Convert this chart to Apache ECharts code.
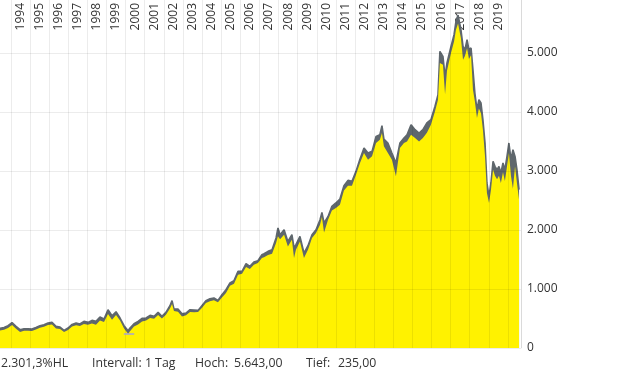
<!DOCTYPE html>
<html>
<head>
<meta charset="utf-8">
<script src="https://cdn.jsdelivr.net/npm/echarts@6/dist/echarts.min.js"></script>
<style>
html,body{margin:0;padding:0;background:#fff;}
#chart{width:620px;height:372px;}
</style>
</head>
<body>
<div id="chart"></div>
<script>
// Year tick labels
const years = ['1994','1995','1996','1997','1998','1999','2000','2001','2002','2003','2004','2005','2006','2007','2008','2009','2010','2011','2012','2013','2014','2015','2016','2017','2018','2019'];

// Dates as decimal years
const dates = [
1993.43,1993.64,1993.85,1994.06,1994.27,1994.48,1994.69,1994.90,1995.10,1995.31,
1995.52,1995.73,1995.94,1996.15,1996.36,1996.57,1996.78,1996.99,1997.20,1997.41,
1997.61,1997.82,1998.03,1998.24,1998.45,1998.66,1998.87,1999.08,1999.29,1999.50,
1999.71,1999.92,2000.13,2000.23,2000.44,2000.65,2000.86,2001.07,2001.28,2001.49,
2001.70,2001.90,2002.11,2002.32,2002.43,2002.53,2002.74,2002.95,2003.16,2003.37,
2003.58,2003.79,2004.00,2004.20,2004.41,2004.62,2004.83,2005.04,2005.25,2005.46,
2005.67,2005.88,2006.09,2006.30,2006.50,2006.71,2006.92,2007.13,2007.24,2007.45,
2007.66,2007.87,2007.97,2008.08,2008.29,2008.49,2008.70,2008.81,2008.91,2009.12,
2009.33,2009.54,2009.75,2009.96,2010.17,2010.27,2010.38,2010.59,2010.79,2011.00,
2011.21,2011.42,2011.63,2011.84,2012.05,2012.26,2012.47,2012.68,2012.89,2013.10,
2013.30,2013.41,2013.51,2013.72,2013.93,2014.14,2014.35,2014.56,2014.72,2014.93,
2015.14,2015.35,2015.55,2015.76,2015.97,2016.18,2016.34,2016.44,2016.60,2016.71,
2016.81,2017.02,2017.18,2017.28,2017.39,2017.54,2017.65,2017.75,2017.86,2017.96,
2018.07,2018.17,2018.27,2018.38,2018.48,2018.59,2018.69,2018.80,2018.90,2019.01,
2019.11,2019.22,2019.32,2019.43,2019.53,2019.63,2019.74,2019.84,2019.95,2020.05,
2020.16,2020.26,2020.37,2020.47,2020.58
];

// Period highs
const highs = [
332,349,378,429,366,310,327,327,322,349,
378,395,424,434,366,356,298,339,400,424,
407,451,434,468,451,525,492,649,547,615,
508,378,293,339,412,451,502,508,553,536,
603,536,603,717,802,661,661,581,593,649,
644,637,722,802,836,848,807,903,988,1102,
1141,1298,1298,1429,1383,1458,1480,1580,1598,1638,
1666,1864,2034,1920,2005,1807,1920,1700,1751,1892,
1610,1734,1920,2005,2175,2298,2119,2230,2400,2458,
2526,2751,2841,2824,2993,3203,3390,3305,3333,3587,
3615,3768,3543,3475,3305,3136,3475,3560,3615,3785,
3700,3644,3700,3814,3870,4095,4293,5027,4943,4600,
4831,5112,5310,5536,5643,5395,5112,5056,5225,5056,
5085,4717,4322,4039,4209,4153,3870,3475,2797,2570,
2797,3163,3078,3022,3078,2966,3136,3022,3248,3475,
3192,3361,3248,3022,2684
];

// Period closes
const closes = [
298,310,339,390,327,271,293,293,288,315,
344,361,390,400,332,322,271,305,366,385,
373,407,395,417,395,468,440,576,480,559,
468,332,242,282,366,400,451,468,508,497,
559,502,565,671,746,627,615,536,553,610,
604,610,683,763,791,808,774,858,932,1056,
1090,1242,1260,1373,1338,1412,1440,1525,1540,1576,
1598,1780,1892,1845,1920,1722,1836,1525,1666,1807,
1525,1666,1864,1950,2090,2220,1959,2175,2332,2373,
2430,2671,2751,2751,2937,3136,3305,3192,3250,3475,
3531,3644,3420,3305,3192,2909,3390,3475,3500,3615,
3560,3500,3560,3650,3785,4010,4209,4831,4800,4300,
4700,5000,5197,5395,5500,5250,4887,4950,5080,4900,
4960,4378,4180,3898,4060,3980,3700,3248,2627,2458,
2680,3022,2920,2860,2920,2797,2980,2830,3078,3305,
2909,2700,3078,2797,2514
];

// Low marker
const lowValue = 235;
const lowDate = 2000.18;

// Y-axis ticks
const yTicks = [0, 1000, 2000, 3000, 4000, 5000];

// Footer texts
const footer = ['2.301,3%HL', 'Intervall: 1 Tag', 'Hoch:', '5.643,00', 'Tief:', '235,00'];
const footerX = [1, 92, 195, 234, 306, 338];

const fmt = v => String(v).replace(/\B(?=(\d{3})+(?!\d))/g, '.');

const chart = echarts.init(document.getElementById('chart'), null, {renderer: 'canvas'});
const FONT = 'Open Sans';
const GRID_COLOR = 'rgba(0,0,0,0.075)';

const option = {
  animation: false,
  backgroundColor: '#ffffff',
  textStyle: {fontFamily: FONT},
  grid: [
    {left: 10.9, right: 112, top: 0, bottom: 24, containLabel: false, outerBoundsMode: 'none'},
    {left: -8.24, right: 99.04, top: -6, bottom: 24, containLabel: false, outerBoundsMode: 'none'}
  ],
  xAxis: [
    {
      type: 'category', gridIndex: 0, data: years, position: 'top', boundaryGap: true,
      axisLine: {show: false}, axisTick: {show: false}, splitLine: {show: false},
      axisLabel: {inside: true, rotate: 90, interval: 0, fontSize: 12, color: '#333', fontFamily: FONT, margin: 3},
      z: 0
    },
    {
      type: 'value', gridIndex: 1, min: 1993, max: 2020.68, interval: 1,
      axisLine: {show: false}, axisTick: {show: false}, axisLabel: {show: false},
      splitLine: {show: true, lineStyle: {color: GRID_COLOR, width: 1}},
      z: 5
    }
  ],
  yAxis: [
    {type: 'value', gridIndex: 0, show: false},
    {
      type: 'value', gridIndex: 1, position: 'right', min: 0, max: 6000, interval: 1000,
      axisLine: {show: true, lineStyle: {color: GRID_COLOR}}, axisTick: {show: false},
      axisLabel: {
        margin: 6, fontSize: 12, color: '#333', fontFamily: FONT,
        formatter: v => (yTicks.indexOf(v) >= 0 ? fmt(v) : '')
      },
      splitLine: {show: true, lineStyle: {color: GRID_COLOR, width: 1}},
      z: 5
    }
  ],
  series: [
    {
      name: 'Hoch', type: 'line', xAxisIndex: 1, yAxisIndex: 1, z: 2,
      data: dates.map((d, i) => [d, highs[i]]),
      showSymbol: false, symbol: 'none',
      lineStyle: {color: '#5f676d', width: 1.6},
      areaStyle: {color: '#5f676d', opacity: 1}
    },
    {
      name: 'Schluss', type: 'line', xAxisIndex: 1, yAxisIndex: 1, z: 3,
      data: dates.map((d, i) => [d, closes[i]]),
      showSymbol: false, symbol: 'none',
      lineStyle: {width: 0, color: '#fff200'},
      areaStyle: {color: '#fff200', opacity: 1},
      markLine: {
        silent: true, symbol: 'none', label: {show: false},
        lineStyle: {color: '#a3a3d6', type: 'solid', width: 1.5},
        data: [[{coord: [lowDate - 0.27, lowValue]}, {coord: [lowDate + 0.27, lowValue]}]]
      }
    }
  ],
  graphic: footer.map((t, i) => ({
    type: 'text', left: footerX[i], top: 357.5, z: 10,
    style: {text: t, fill: '#333', font: '12.3px "' + FONT + '"'}
  }))
};
chart.setOption(option);
</script>
</body>
</html>
